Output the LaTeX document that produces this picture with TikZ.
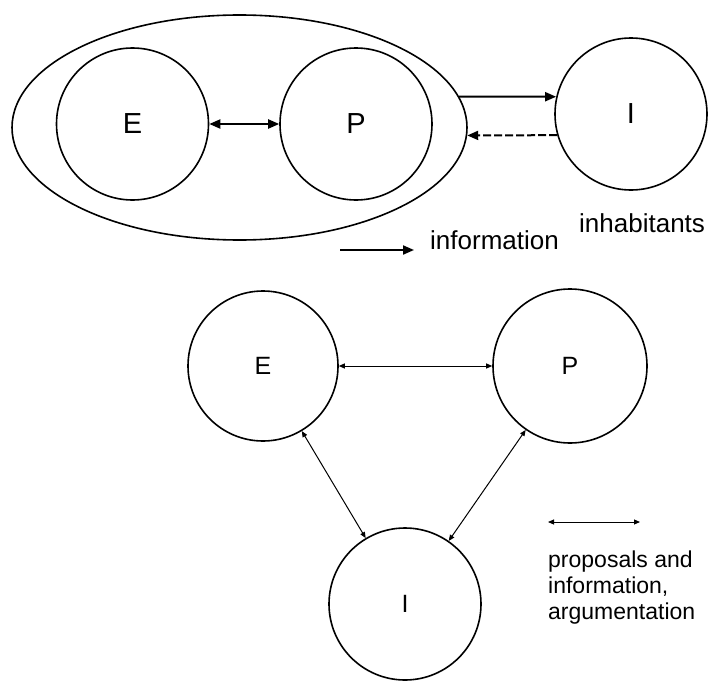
\documentclass[tikz,border=0pt]{standalone}
\usepackage{fontspec}
\setmainfont{Liberation Sans}
\usetikzlibrary{arrows.meta,shapes.geometric,positioning}
\tikzset{
  actor/.style={draw, circle, line width=1.6pt, inner sep=0pt},
  bigactor/.style={actor, minimum size=152pt, font=\fontsize{29}{29}\selectfont},
  smallactor/.style={actor, minimum size=152pt, font=\fontsize{25}{25}\selectfont},
  flow/.style={line width=2pt, -{Triangle[length=11pt,width=9pt]}},
  talk/.style={line width=1pt, {Triangle[length=6pt,width=5pt]}-{Triangle[length=6pt,width=5pt]}},
  caption/.style={font=\fontsize{26}{26}\selectfont, inner sep=0pt},
  legendtext/.style={font=\fontsize{23}{26}\selectfont, inner sep=0pt, align=left}
}
\begin{document}
\begin{tikzpicture}[x=1pt,y=-1pt]
			%%%%% START %%%%%
			\useasboundingbox (0,0) rectangle (712,680);
			
			% upper scheme
			\node[draw, ellipse, line width=1.6pt, minimum width=455pt, minimum height=225pt, inner sep=0pt] (group) at (239.5,127.5) {};
			\node[bigactor] (E) at (132.5,124) {E};
			\node[bigactor] (P) at (356,124) {P};
			\node[bigactor] (I) at (631,114) {I};
			
			\draw[flow, {Triangle[length=11pt,width=9pt]}-{Triangle[length=11pt,width=9pt]}] (E) -- (P);
			\draw[flow] (group.8) -- (I.167);
			\draw[flow, dash pattern=on 8pt off 3pt] (I.196) -- (group.-2);
			
			\node[caption, anchor=west] (inhab) at (579,223) {inhabitants};
			\coordinate (keyA) at (340,250);
			\coordinate (keyB) at (414,250);
			\draw[flow] (keyA) -- (keyB);
			\node[caption, anchor=west] (keyinfo) at (430,240) {information};
			
			% lower scheme
			\node[smallactor, minimum size=150pt] (E2) at (263,366) {E};
			\node[smallactor, minimum size=154pt] (P2) at (570,366) {P};
			\node[smallactor] (I2) at (405,604) {I};
			
			\draw[talk] (E2) -- (P2);
			\draw[talk] (E2) -- (I2);
			\draw[talk] (P2) -- (I2);
			
			\coordinate (keyC) at (548,522);
			\coordinate (keyD) at (640,522);
			\draw[talk] (keyC) -- (keyD);
			\node[legendtext, anchor=north west] (keytalk) at (548,551) {proposals and\\information,\\argumentation};
			
			%%%%% END %%%%%
		\end{tikzpicture}
\end{document}
